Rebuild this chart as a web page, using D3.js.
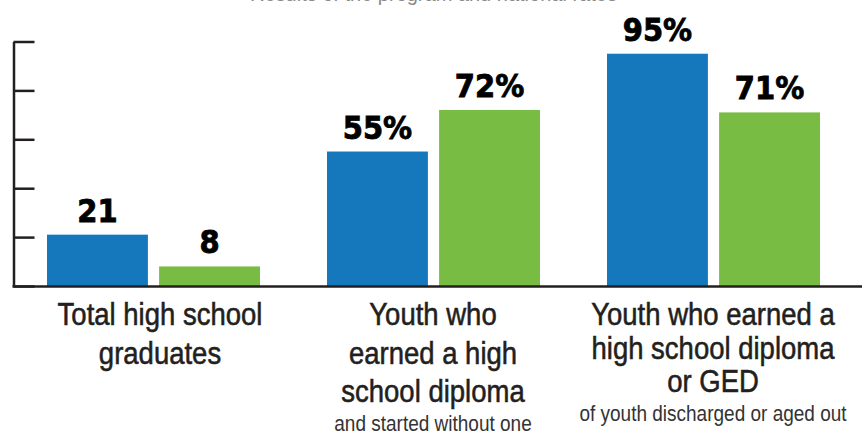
<!DOCTYPE html>
<html>
<head>
<meta charset="utf-8">
<script src="https://cdn.jsdelivr.net/npm/d3@7"></script>
<style>
  html, body { margin: 0; padding: 0; background: #fff; }
  svg { display: block; }
</style>
</head>
<body>
<svg id="chart" width="862" height="434"></svg>
<script>
// Outcome groups and their label lines
const groups = ["total", "diploma", "diplomaGed"];
const groupTitles = [
  ["Total high school", "graduates"],
  ["Youth who", "earned a high", "school diploma"],
  ["Youth who earned a", "high school diploma", "or GED"]
];
const groupNotes = ["", "and started without one", "of youth discharged or aged out"];

// Two series per group
const seriesKeys = ["program", "comparison"];
const programValues = [21, 55, 95];
const comparisonValues = [8, 72, 71];
const programLabels = ["21", "55%", "95%"];
const comparisonLabels = ["8", "72%", "71%"];

const yTicks = [0, 20, 40, 60, 80, 100];
const titleText = "Results of the program and national rates";

const colors = { program: "#1578bd", comparison: "#79bc43" };
const ink = "#231f20";

const svg = d3.select("#chart");
const W = 862;

const x = d3.scaleBand().domain(groups).range([13, 853]).padding(0);
const xi = d3.scaleBand().domain(seriesKeys).range([34, 247]).paddingInner(0.1).paddingOuter(0);
const y = d3.scaleLinear().domain([0, 100]).range([286, 41.5]);

// Heading sits above the top edge; only its lowest strokes show
svg.append("text")
  .attr("x", 250).attr("y", 0.5)
  .attr("font-family", "Liberation Sans, Arial, sans-serif")
  .attr("font-size", 20)
  .attr("fill", "#8a8a8a")
  .text(titleText);

const rows = groups.map((g, i) => ({
  group: g,
  values: [
    { key: "program", value: programValues[i], label: programLabels[i] },
    { key: "comparison", value: comparisonValues[i], label: comparisonLabels[i] }
  ]
}));

const gGroups = svg.selectAll("g.grp").data(rows).join("g")
  .attr("class", "grp")
  .attr("transform", d => `translate(${x(d.group)},0)`);

gGroups.selectAll("rect").data(d => d.values).join("rect")
  .attr("x", d => xi(d.key))
  .attr("width", xi.bandwidth())
  .attr("y", d => y(d.value))
  .attr("height", d => y(0) - y(d.value))
  .attr("fill", d => colors[d.key]);

gGroups.selectAll("text.val").data(d => d.values).join("text")
  .attr("class", "val")
  .attr("transform", d => `translate(${xi(d.key) + xi.bandwidth() / 2},${y(d.value) - 13}) scale(1,1.08)`)
  .attr("text-anchor", "middle")
  .attr("font-family", "DejaVu Sans, sans-serif")
  .attr("font-weight", "bold")
  .attr("font-size", 29)
  .attr("fill", "#000")
  .attr("stroke", "#000")
  .attr("stroke-width", 0.8)
  .text(d => d.label);

// Left axis: ticks pointing right, no labels
const axis = d3.axisRight(y).tickValues(yTicks).tickSize(21).tickSizeOuter(0).tickFormat("");
const gAxis = svg.append("g").attr("transform", "translate(13.5,0)").call(axis);
gAxis.select(".domain").attr("stroke", ink).attr("stroke-width", 2.5);
gAxis.selectAll(".tick line").attr("stroke", ink).attr("stroke-width", 2.5);

// Baseline across the whole plot
svg.append("line")
  .attr("x1", 12.5).attr("x2", W)
  .attr("y1", y(0) + 0.5).attr("y2", y(0) + 0.5)
  .attr("stroke", ink).attr("stroke-width", 2.5);

// Category labels
const lineGap = [38.5, 38.5, 33.5];
const labelShift = [7, 0, 0];
groups.forEach((g, i) => {
  const cx = x(g) + x.bandwidth() / 2 + labelShift[i];
  groupTitles[i].forEach((t, j) => {
    svg.append("text")
      .attr("transform", `translate(${cx},${325 + j * lineGap[i]}) scale(1,1.15)`)
      .attr("text-anchor", "middle")
      .attr("font-family", "Liberation Sans, Arial, sans-serif")
      .attr("font-size", 27.5)
      .attr("fill", ink)
      .attr("stroke", ink)
      .attr("stroke-width", 0.5)
      .text(t);
  });
  if (groupNotes[i]) {
    const ny = i === 1 ? 431 : 421;
    svg.append("text")
      .attr("transform", `translate(${cx},${ny}) scale(1,1.15)`)
      .attr("text-anchor", "middle")
      .attr("font-family", "Liberation Sans, Arial, sans-serif")
      .attr("font-size", 19)
      .attr("fill", "#333")
      .text(groupNotes[i]);
  }
});
</script>
</body>
</html>
